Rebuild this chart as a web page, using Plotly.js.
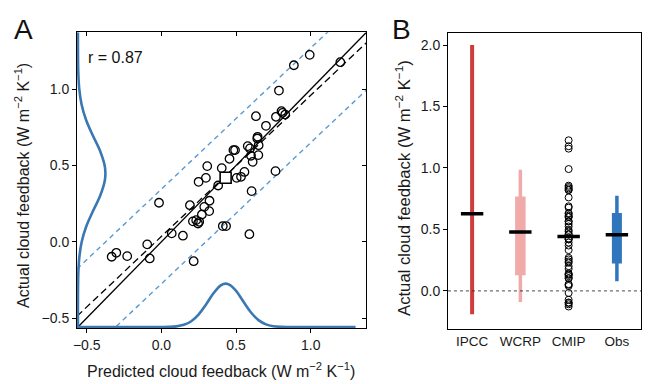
<!DOCTYPE html>
<html>
<head>
<meta charset="utf-8">
<script src="https://cdn.plot.ly/plotly-3.0.1.min.js"></script>
<style>html,body{margin:0;padding:0;background:#fff;}#chart{width:650px;height:384px;}</style>
</head>
<body>
<div id="chart"></div>
<script>
// ---- Panel A: CMIP models, predicted vs actual cloud feedback ----
const predicted = [-0.333,-0.302,-0.229,-0.095,-0.078,-0.016,0.069,0.144,0.216,0.191,
  0.211,0.233,0.245,0.253,0.271,0.287,0.320,0.322,0.249,0.298,
  0.307,0.380,0.404,0.411,0.433,0.456,0.482,0.493,0.504,0.533,
  0.556,0.578,0.593,0.600,0.611,0.604,0.589,0.633,0.642,0.644,
  0.651,0.649,0.700,0.767,0.764,0.787,0.804,0.811,0.829,0.887,
  0.993,1.198];
const actual = [-0.098,-0.072,-0.094,-0.017,-0.109,0.256,0.055,0.040,-0.127,0.240,
  0.134,0.142,0.120,0.131,0.179,0.229,0.201,0.269,0.393,0.419,
  0.496,0.369,0.483,0.103,0.103,0.544,0.601,0.601,0.419,0.426,
  0.458,0.627,0.612,0.564,0.524,0.332,0.050,0.823,0.677,0.688,
  0.633,0.568,0.760,0.819,0.463,0.991,0.856,0.845,0.834,1.157,
  1.225,1.177];
const obsPoint = {x: 0.43, y: 0.42};
const rLabel = "r = 0.87";
const regSlope = 0.925, regIntercept = 0.035, predHalfWidth = 0.31;

// density of the observational prediction (along bottom), heights above the axis floor
const obsPdfX = [-0.565,0.0,0.05,0.10,0.15,0.20,0.25,0.30,0.35,0.40,0.43,0.46,0.50,0.55,0.60,0.65,0.70,0.75,0.80,0.85,1.30];
const obsPdfH = [0,0.0003,0.0012,0.0046,0.0147,0.0386,0.0837,0.1504,0.2237,0.2755,0.285,0.2755,0.2369,0.1654,0.0955,0.0457,0.0181,0.0059,0.0016,0.0004,0];
// density of model actual feedback (along left side)
const modelPdfY = [-0.565,-0.30,-0.20,-0.10,0.0,0.10,0.20,0.30,0.40,0.45,0.50,0.60,0.70,0.80,0.90,1.00,1.10,1.20,1.373];
const modelPdfH = [0,0.0007,0.0029,0.0095,0.0254,0.0556,0.1002,0.1482,0.1799,0.184,0.1791,0.1465,0.0983,0.0541,0.0245,0.0091,0.0028,0.0007,0];

// ---- Panel B ----
const categories = ["IPCC","WCRP","CMIP","Obs"];
const ipccRange = [-0.19, 2.0], ipccMedian = 0.627;
const wcrpThin = [-0.09, 0.985], wcrpThick = [0.127, 0.768], wcrpMedian = 0.479;
const cmipMedian = 0.443;
const obsThin = [0.078, 0.773], obsThick = [0.222, 0.633], obsMedian = 0.457;

const xRangeA = [-0.565, 1.37], yRangeA = [-0.565, 1.373];
const blue = '#3a78b4', lightBlue = '#5a9ad0';
const FONT = 'Liberation Sans, Arial, sans-serif';

function lineAcross(intercept, slope) {
  return {x: [xRangeA[0], xRangeA[1]], y: [intercept + slope*xRangeA[0], intercept + slope*xRangeA[1]]};
}
const oneToOne = lineAcross(0, 1);
const reg = lineAcross(regIntercept, regSlope);
const upper = lineAcross(regIntercept + predHalfWidth, regSlope);
const lower = lineAcross(regIntercept - predHalfWidth, regSlope);
const floorY = yRangeA[0] + 0.006, floorX = xRangeA[0] + 0.006;

const traces = [
  {x: upper.x, y: upper.y, mode:'lines', line:{color:lightBlue, width:1.4, dash:'5px,4px'}, xaxis:'x', yaxis:'y', hoverinfo:'skip'},
  {x: lower.x, y: lower.y, mode:'lines', line:{color:lightBlue, width:1.4, dash:'5px,4px'}, xaxis:'x', yaxis:'y', hoverinfo:'skip'},
  {x: oneToOne.x, y: oneToOne.y, mode:'lines', line:{color:'#000', width:1.3}, xaxis:'x', yaxis:'y'},
  {x: reg.x, y: reg.y, mode:'lines', line:{color:'#000', width:1.3, dash:'7px,4px'}, xaxis:'x', yaxis:'y'},
  {x: obsPdfX, y: obsPdfH.map(h => floorY + h), mode:'lines', line:{color:blue, width:2.6, shape:'spline'}, xaxis:'x', yaxis:'y'},
  {x: modelPdfH.map(h => floorX + h), y: modelPdfY, mode:'lines', line:{color:blue, width:2.6, shape:'spline'}, xaxis:'x', yaxis:'y'},
  {x: predicted, y: actual, mode:'markers', marker:{symbol:'circle-open', size:8.5, color:'#000', line:{width:1.3}}, xaxis:'x', yaxis:'y'},
  {x: [obsPoint.x], y: [obsPoint.y], mode:'markers', marker:{symbol:'square', size:11, color:'#fff', line:{color:'#000', width:1.6}}, xaxis:'x', yaxis:'y'},
  // overlay axes for inside mirrored ticks
  {x: [], y: [], xaxis:'x3', yaxis:'y', mode:'markers'},
  {x: [], y: [], xaxis:'x', yaxis:'y3', mode:'markers'},
  // Panel B
  {x: [categories[0], categories[0]], y: ipccRange, mode:'lines', line:{color:'#cf3c3c', width:4}, xaxis:'x2', yaxis:'y2'},
  {x: [categories[1], categories[1]], y: wcrpThin, mode:'lines', line:{color:'#f0aaaa', width:3.5}, xaxis:'x2', yaxis:'y2'},
  {x: [categories[1], categories[1]], y: wcrpThick, mode:'lines', line:{color:'#f0aaaa', width:10.5}, xaxis:'x2', yaxis:'y2'},
  {x: actual.map(() => categories[2]), y: actual, mode:'markers', marker:{symbol:'circle-open', size:7, color:'#000', line:{width:1}}, xaxis:'x2', yaxis:'y2'},
  {x: [categories[3], categories[3]], y: obsThin, mode:'lines', line:{color:'#2f76bd', width:3.5}, xaxis:'x2', yaxis:'y2'},
  {x: [categories[3], categories[3]], y: obsThick, mode:'lines', line:{color:'#2f76bd', width:10}, xaxis:'x2', yaxis:'y2'},
  {x: categories, y: [ipccMedian, wcrpMedian, cmipMedian, obsMedian], mode:'markers',
   marker:{symbol:'line-ew', size:16, line:{color:'#000', width:3.5}}, xaxis:'x2', yaxis:'y2'}
];

const tickFont = {family: FONT, size: 14, color: '#1a1a1a'};
const axBase = {showgrid:false, zeroline:false, showline:true, linecolor:'#000', linewidth:1, tickcolor:'#000', ticklen:4, tickwidth:1, tickfont:tickFont, fixedrange:true};
const titleTxt = ' cloud feedback (W m<sup>−2</sup> K<sup>−1</sup>)';

const layout = {
  width: 650, height: 384,
  margin: {l:0, r:0, t:0, b:0},
  paper_bgcolor: '#fff', plot_bgcolor: '#fff',
  showlegend: false,
  font: {family: FONT, color: '#1a1a1a'},
  xaxis: Object.assign({}, axBase, {domain:[0.1185,0.5631], range:xRangeA, anchor:'y', tickvals:[-0.5,0,0.5,1.0], tickformat:'.1f', ticks:'outside', mirror:true}),
  yaxis: Object.assign({}, axBase, {domain:[0.1458,0.9159], range:yRangeA, anchor:'x', tickvals:[-0.5,0,0.5,1.0], tickformat:'.1f', ticks:'outside', mirror:true}),
  xaxis3: Object.assign({}, axBase, {overlaying:'x', anchor:'y', side:'top', range:xRangeA, tickvals:[-0.5,0,0.5,1.0], ticks:'inside', showticklabels:false, showline:false}),
  yaxis3: Object.assign({}, axBase, {overlaying:'y', anchor:'x', side:'right', range:yRangeA, tickvals:[-0.5,0,0.5,1.0], ticks:'inside', showticklabels:false, showline:false}),
  xaxis2: Object.assign({}, axBase, {domain:[0.6892,0.9862], anchor:'y2', type:'category', categoryorder:'array', categoryarray:categories, range:[-0.5,3.5], ticks:'', mirror:true, tickfont:{family:FONT, size:13.5, color:'#1a1a1a'}}),
  yaxis2: Object.assign({}, axBase, {domain:[0.1432,0.9148], anchor:'x2', range:[-0.31,2.10], tickvals:[0,0.5,1.0,1.5,2.0], tickformat:'.1f', ticks:'outside', mirror:true}),
  shapes: [
    {type:'line', xref:'x2 domain', x0:0, x1:1, yref:'y2', y0:0, y1:0, line:{color:'#333', width:0.9, dash:'3px,3px'}}
  ],
  annotations: [
    {text:'A', xref:'paper', yref:'paper', x:23/650, y:1-29/384, xanchor:'center', yanchor:'middle', showarrow:false, font:{family:FONT, size:28, color:'#111'}},
    {text:'B', xref:'paper', yref:'paper', x:401/650, y:1-29/384, xanchor:'center', yanchor:'middle', showarrow:false, font:{family:FONT, size:28, color:'#111'}},
    {text:rLabel, xref:'paper', yref:'paper', x:86/650, y:1-57/384, xanchor:'left', yanchor:'middle', showarrow:false, font:{family:FONT, size:16, color:'#111'}},
    {text:'Actual' + titleTxt, xref:'paper', yref:'paper', x:22/650, y:1-186/384, textangle:-90, xanchor:'center', yanchor:'middle', showarrow:false, font:{family:FONT, size:16, color:'#1a1a1a'}},
    {text:'Predicted' + titleTxt, xref:'paper', yref:'paper', x:221/650, y:1-370/384, xanchor:'center', yanchor:'middle', showarrow:false, font:{family:FONT, size:16, color:'#1a1a1a'}},
    {text:'Actual' + titleTxt, xref:'paper', yref:'paper', x:403/650, y:1-188/384, textangle:-90, xanchor:'center', yanchor:'middle', showarrow:false, font:{family:FONT, size:16.7, color:'#1a1a1a'}}
  ]
};

Plotly.newPlot('chart', traces, layout, {staticPlot:true, displayModeBar:false});
</script>
</body>
</html>
